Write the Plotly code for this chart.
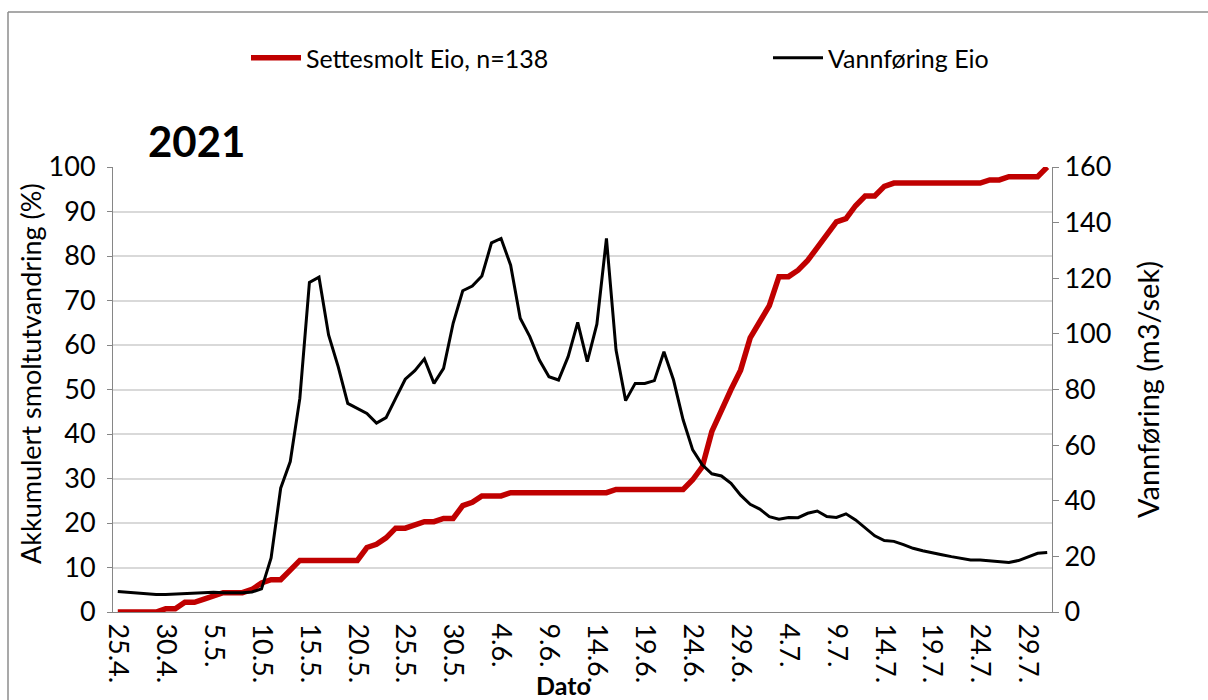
import pandas as pd
import plotly.graph_objects as go

# akkumulert andel settesmolt (%) per dag, 25.4.-31.7.2021
smolt_pct = [0, 0, 0, 0, 0, 0.72, 0.72, 2.17, 2.17, 2.9,
             3.62, 4.35, 4.35, 4.35, 5.07, 6.52, 7.25, 7.25, 9.42, 11.59,
             11.59, 11.59, 11.59, 11.59, 11.59, 11.59, 14.49, 15.22, 16.67, 18.84,
             18.84, 19.57, 20.29, 20.29, 21.01, 21.01, 23.91, 24.64, 26.09, 26.09,
             26.09, 26.81, 26.81, 26.81, 26.81, 26.81, 26.81, 26.81, 26.81, 26.81,
             26.81, 26.81, 27.54, 27.54, 27.54, 27.54, 27.54, 27.54, 27.54, 27.54,
             29.71, 32.61, 40.58, 45.65, 50.0, 54.35, 61.59, 65.22, 68.84, 75.36,
             75.36, 76.81, 78.99, 81.88, 84.78, 87.68, 88.41, 91.30, 93.48, 93.48,
             95.65, 96.38, 96.38, 96.38, 96.38, 96.38, 96.38, 96.38, 96.38, 96.38,
             96.38, 97.10, 97.10, 97.83, 97.83, 97.83, 97.83, 100]

# vannføring Eio (m3/sek)
vannforing = [7.4, 7.1, 6.7, 6.5, 6.3, 6.3, 6.5, 6.7, 6.9, 7.1,
              7.1, 6.9, 6.9, 6.9, 7.2, 8.3, 19.4, 44.5, 54.1, 76.8,
              118.5, 120.4, 99.6, 88.2, 75.0, 73.2, 71.4, 67.9, 69.9, 76.8,
              83.7, 86.8, 91.0, 82.2, 87.6, 103.8, 115.5, 117.2, 120.8, 132.7,
              134.3, 124.7, 105.6, 99.0, 90.6, 84.6, 83.4, 91.8, 104.1, 90.0,
              103.5, 134.3, 94.2, 76.0, 82.2, 82.2, 83.2, 93.6, 83.4, 69.1,
              58.3, 52.9, 49.7, 48.9, 46.3, 42.0, 38.7, 37.0, 34.3, 33.4,
              34.0, 33.9, 35.5, 36.3, 34.3, 34.0, 35.3, 33.1, 30.2, 27.4,
              25.7, 25.4, 24.2, 22.9, 22.0, 21.4, 20.6, 19.9, 19.3, 18.7,
              18.7, 18.4, 18.1, 17.8, 18.5, 19.7, 21.1, 21.4]

dates = pd.date_range("2021-04-25", periods=len(smolt_pct), freq="D")

W, H = 1208, 700
# plotområde i piksler
L, R, T, B = 113, 1052, 167, 612

def px(x):
    return (x - L) / (R - L)

def py(y):
    return (B - y) / (B - T)

FONT = "Lato"
AXIS_GREY = "#868686"
TICK = 27

fig = go.Figure()
fig.add_trace(go.Scatter(x=dates, y=smolt_pct, name="Settesmolt Eio, n=138",
                         mode="lines", line=dict(color="#c00000", width=5.5),
                         legend="legend"))
fig.add_trace(go.Scatter(x=dates, y=vannforing, name="Vannføring Eio",
                         mode="lines", line=dict(color="black", width=3),
                         yaxis="y2", legend="legend2"))

legend_common = dict(orientation="h", yanchor="middle", xanchor="left",
                     font=dict(family=FONT, size=25, color="black"),
                     bgcolor="rgba(0,0,0,0)", itemwidth=50)

fig.update_layout(
    width=W, height=H,
    margin=dict(l=L, r=W - R, t=T, b=H - B),
    plot_bgcolor="white", paper_bgcolor="white",
    font=dict(family=FONT, size=TICK, color="black"),
    showlegend=True,
    legend=dict(x=px(246), y=py(58), **legend_common),
    legend2=dict(x=px(768), y=py(58), **legend_common),
    xaxis=dict(
        type="date",
        range=["2021-04-24 12:00", "2021-07-31 12:00"],
        tick0="2021-04-25", dtick=5 * 86400000,
        tickformat="%-d.%-m.", tickangle=90,
        showgrid=False, showline=True, linecolor=AXIS_GREY, linewidth=1,
        ticks="", tickfont=dict(size=TICK), ticklabelstandoff=5,
    ),
    yaxis=dict(
        range=[0, 100], dtick=10,
        showgrid=True, gridcolor="#d9d9d9", gridwidth=1.5,
        showline=True, linecolor=AXIS_GREY, linewidth=1,
        ticks="outside", ticklen=5, tickcolor=AXIS_GREY,
        tickfont=dict(size=TICK), zeroline=False, ticklabelstandoff=6,
    ),
    yaxis2=dict(
        range=[0, 160], dtick=20, overlaying="y", side="right",
        showgrid=False, showline=True, linecolor=AXIS_GREY, linewidth=1,
        ticks="outside", ticklen=6, tickcolor=AXIS_GREY,
        tickfont=dict(size=TICK), zeroline=False,
    ),
)

# ramme rundt diagrammet (bare topp og venstre synes)
frame = dict(type="line", xref="paper", yref="paper",
             line=dict(color="#8c8c8c", width=1.5), layer="below")
fig.add_shape(x0=px(8), x1=px(1300), y0=py(12), y1=py(12), **frame)
fig.add_shape(x0=px(8), x1=px(8), y0=py(12), y1=py(800), **frame)

annots = [
    dict(text="<b>2021</b>", x=px(196), y=py(141), font=dict(size=42)),
    dict(text="Akkumulert smoltutvandring (%)", x=px(30), y=py(374),
         textangle=-90, font=dict(size=TICK)),
    dict(text="Vannføring (m3/sek)", x=px(1147), y=py(390),
         textangle=-90, font=dict(size=29)),
    dict(text="<b>Dato</b>", x=px(563), y=py(685), font=dict(size=25)),
]
for a in annots:
    fig.add_annotation(xref="paper", yref="paper", showarrow=False,
                       xanchor="center", yanchor="middle", **a)

# fjern standardmargen på siden slik at figuren fyller vinduet
fig.write_html("out.html", config={"displayModeBar": False},
               post_script="document.body.style.margin='0';"
                           "document.body.style.overflow='hidden';")
